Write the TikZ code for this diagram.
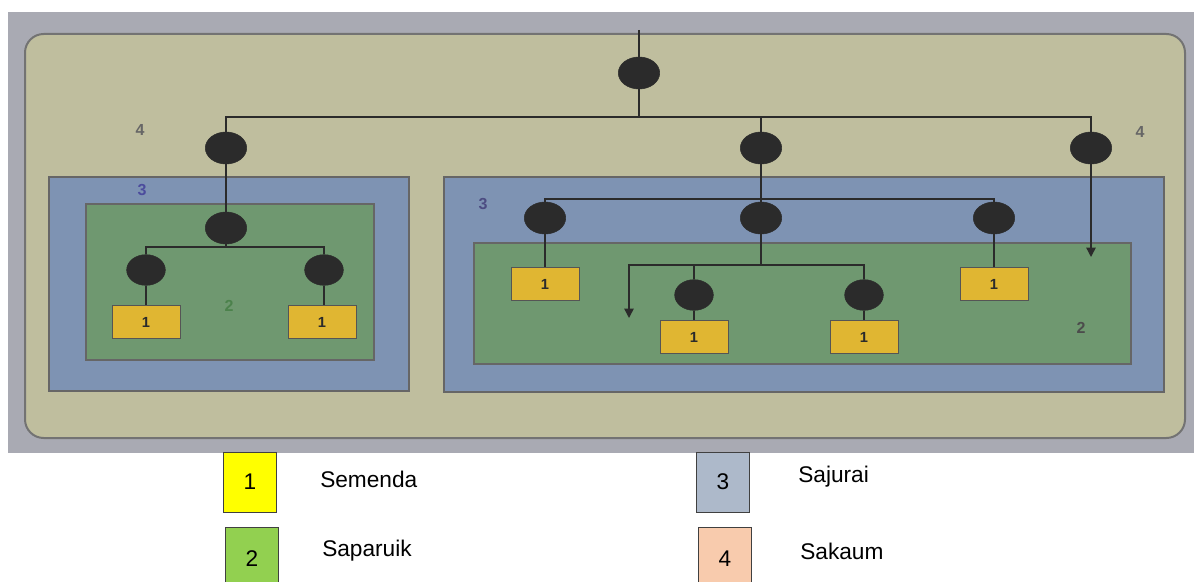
\documentclass[tikz,border=0pt]{standalone}
\usepackage{fontspec}
\setmainfont{Liberation Sans}
\usetikzlibrary{shapes,arrows.meta,calc,positioning}
\definecolor{photo}{HTML}{A9AAB3}
\definecolor{sakaum}{HTML}{BFBE9E}
\definecolor{sajurai}{HTML}{7E93B3}
\definecolor{saparuik}{HTML}{6F9870}
\definecolor{semenda}{HTML}{E0B632}
\definecolor{ink}{HTML}{2B2B2B}
\tikzset{
    semithick,
    person/.style ={ellipse, fill=ink, draw=ink, minimum width=31pt, minimum height=24pt, inner sep=0pt},
    small/.style ={person, minimum width=29pt, minimum height=23pt},
    house/.style ={rectangle, draw=ink!80, fill=semenda, minimum width=51pt, minimum height=25pt, inner sep=0pt, font=\bfseries\fontsize{11}{13}\selectfont, text=ink},
    tag/.style = {font=\bfseries\fontsize{12}{14}\selectfont},
    key/.style = {rectangle, draw=black!75, thin, minimum width=40pt, minimum height=45pt, inner sep=0pt, font=\fontsize{17}{20}\selectfont},
    keytext/.style = {anchor=west, inner sep=0pt, font=\fontsize{17}{20}\selectfont},
    link/.style = {draw=ink, line width=1.1pt},
    down/.style = {link, -{Triangle[width=7pt,length=7pt]}}
}
\begin{document}
\begin{tikzpicture}[x=0.75pt,y=-0.75pt]
      \useasboundingbox (0,0) rectangle (1194,581);
      % photo of the chart
      \fill[photo] (8,12) rectangle (1194,453);
      \draw[fill=sakaum, draw=black!55, line width=1.5pt, rounded corners=14pt] (25,34) rectangle (1185,438);
      \draw[fill=sajurai, draw=black!60, line width=1.3pt] (49,177) rectangle (409,391);
      \draw[fill=saparuik, draw=black!60, line width=1.3pt] (86,204) rectangle (374,360);
      \draw[fill=sajurai, draw=black!60, line width=1.3pt] (444,177) rectangle (1164,392);
      \draw[fill=saparuik, draw=black!60, line width=1.3pt] (474,243) rectangle (1131,364);

      \node[tag, text=black!60] (t4a) at (140,130) {4};
      \node[tag, text=black!60] (t4b) at (1140,132) {4};
      \node[tag, text=blue!45!black!70] (t3a) at (142,190) {3};
      \node[tag, text=blue!30!black!70] (t3b) at (483,204) {3};
      \node[tag, text=green!30!black!70] (t2a) at (229,306) {2};
      \node[tag, text=black!70] (t2b) at (1081,328) {2};

      % people
      \node[person] (top) at (639,73) {};
      \node[person] (k1) at (226,148) {};
      \node[person] (k2) at (761,148) {};
      \node[person] (k3) at (1091,148) {};
      \node[person] (l1) at (226,228) {};
      \node[small] (l2) at (146,270) {};
      \node[small] (l3) at (324,270) {};
      \node[person] (r1) at (545,218) {};
      \node[person] (r2) at (761,218) {};
      \node[person] (r3) at (994,218) {};
      \node[small] (s1) at (694,295) {};
      \node[small] (s2) at (864,295) {};

      \node[house] (a1) at (146,322) {1};
      \node[house] (a2) at (322,322) {1};
      \node[house] (b1) at (545,284) {1};
      \node[house] (b4) at (994,284) {1};
      \node[house] (b2) at (694,337) {1};
      \node[house] (b3) at (864,337) {1};

      \coordinate (c0) at (639,30);
      \coordinate (t0) at (639,117);
      \coordinate (lb) at (226,247);
      \coordinate (rb) at (761,199);
      \coordinate (sb) at (761,265);
      \coordinate (end1) at (629,318);
      \coordinate (end2) at (1091,257);

      \path[link] (c0) -- (top) -- (t0);
      \path[link] (k1) |- (t0) -| (k3);
      \path[link] (t0) -| (k2);
      \path[link] (k1) -- (l1) -- (lb);
      \path[link] (l2) |- (lb) -| (l3);
      \path[link] (l2) -- (l2 |- a1.north);
      \path[link] (l3) -- (l3 |- a2.north);

      \path[link] (k2) -- (r2) -- (sb);
      \path[link] (r1) |- (rb) -| (r3);
      \path[link] (r1) -- (b1);
      \path[link] (r3) -- (b4);
      \path[down] (sb) -| (end1);
      \path[link] (sb) -| (s2);
      \path[link] (s1) -- (s1 |- sb);
      \path[link] (s1) -- (b2);
      \path[link] (s2) -- (b3);
      \path[down] (k3) -- (end2);

      % legend
      \node[key, fill={rgb,255:red,255;green,255;blue,0}] (k1box) at (250,482) {1};
      \node[key, fill={rgb,255:red,146;green,208;blue,80}, minimum height=48pt] (k2box) at (252,559) {2};
      \node[key, fill={rgb,255:red,173;green,185;blue,202}] (k3box) at (723,482) {3};
      \node[key, fill={rgb,255:red,248;green,203;blue,173}, minimum height=48pt] (k4box) at (725,559) {4};
      \node[keytext] (semen) at (320,479) {Semenda};
      \node[keytext] (sapar) at (322,551) {Saparuik};
      \node[keytext] (sajur) at (798,477) {Sajurai};
      \node[keytext] (sakau) at (800,551) {Sakaum};
    \end{tikzpicture}
\end{document}
